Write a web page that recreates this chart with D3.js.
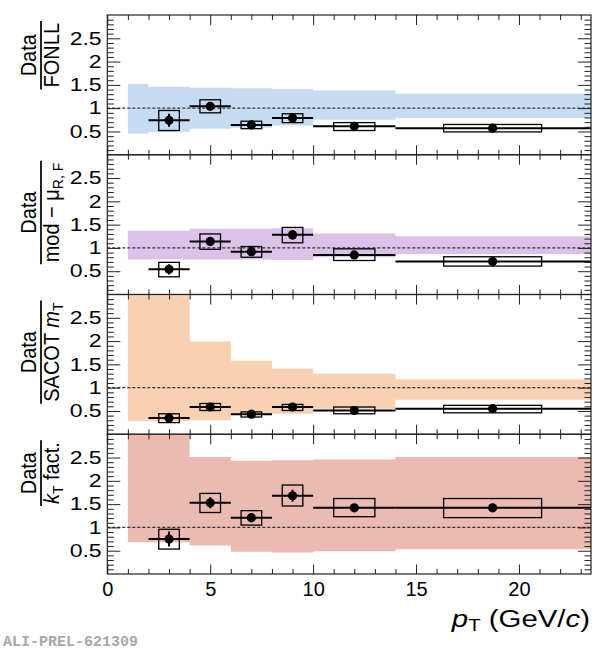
<!DOCTYPE html>
<html>
<head>
<meta charset="utf-8">
<script src="https://cdn.jsdelivr.net/npm/d3@7"></script>
<style>
  body { margin: 0; background: #fff; }
  svg { display: block; }
</style>
</head>
<body>
<div id="chart"></div>
<script>
(function () {
  'use strict';

  // Data points (common to all panels): mean pT, bin edges, syst box half width
  const pointPt = [3, 5, 7, 9, 12, 18.72];
  const binLo = [2, 4, 6, 8, 10, 14];
  const binHi = [4, 6, 8, 10, 14, 24];
  const boxHalf = [0.5, 0.5, 0.5, 0.5, 1.0, 2.38];

  // Model uncertainty band bin edges
  const modelEdges = [1, 2, 4, 6, 8, 10, 14, 24];

  // Data / FONLL
  const fonllVal = [0.74, 1.04, 0.64, 0.79, 0.61, 0.57];
  const fonllStat = [0.14, 0.08, 0.05, 0.06, 0.03, 0.03];
  const fonllSysLo = [0.52, 0.90, 0.56, 0.69, 0.52, 0.49];
  const fonllSysHi = [0.95, 1.18, 0.72, 0.88, 0.69, 0.65];
  const fonllBandLo = [0.45, 0.49, 0.56, 0.58, 0.63, 0.75, 0.79];
  const fonllBandHi = [1.52, 1.46, 1.44, 1.43, 1.41, 1.38, 1.31];

  // Data / mod - muR,F
  const muVal = [0.54, 1.14, 0.92, 1.28, 0.85, 0.71];
  const muStat = [0.11, 0.09, 0.07, 0.10, 0.04, 0.04];
  const muSysLo = [0.38, 0.97, 0.80, 1.11, 0.73, 0.61];
  const muSysHi = [0.69, 1.30, 1.03, 1.44, 0.98, 0.81];
  const muBandLo = [0.75, 0.75, 0.75, 0.75, 0.74, 0.80, 0.87];
  const muBandHi = [1.37, 1.37, 1.41, 1.41, 1.42, 1.31, 1.25];

  // Data / SACOT mT
  const sacotVal = [0.35, 0.585, 0.43, 0.585, 0.51, 0.55];
  const sacotStat = [0.07, 0.05, 0.035, 0.045, 0.025, 0.03];
  const sacotSysLo = [0.25, 0.51, 0.37, 0.51, 0.44, 0.46];
  const sacotSysHi = [0.44, 0.66, 0.48, 0.64, 0.585, 0.62];
  const sacotBandLo = [0.285, 0.285, 0.30, 0.43, 0.44, 0.55, 0.74];
  const sacotBandHi = [3.5, 3.5, 1.99, 1.58, 1.41, 1.30, 1.18];

  // Data / kT fact.
  const ktVal = [0.75, 1.53, 1.21, 1.68, 1.42, 1.42];
  const ktStat = [0.16, 0.12, 0.10, 0.13, 0.07, 0.07];
  const ktSysLo = [0.535, 1.32, 1.05, 1.46, 1.23, 1.21];
  const ktSysHi = [0.96, 1.73, 1.36, 1.91, 1.62, 1.62];
  const ktBandLo = [0.68, 0.68, 0.61, 0.48, 0.46, 0.49, 0.53];
  const ktBandHi = [3.5, 3.5, 2.51, 2.43, 2.44, 2.46, 2.51];

  // Axis ticks
  const xMajor = [0, 5, 10, 15, 20];
  const xMinor = [1, 2, 3, 4, 6, 7, 8, 9, 11, 12, 13, 14, 16, 17, 18, 19, 21, 22, 23];
  const xTickLabels = ['0', '5', '10', '15', '20'];
  const yMajor = [0.5, 1, 1.5, 2, 2.5];
  const yMinor = [0.1, 0.2, 0.3, 0.4, 0.6, 0.7, 0.8, 0.9, 1.1, 1.2, 1.3, 1.4, 1.6, 1.7, 1.8, 1.9,
                  2.1, 2.2, 2.3, 2.4, 2.6, 2.7, 2.8, 2.9];
  const yTickLabels = ['0.5', '1', '1.5', '2', '2.5'];

  const FONT = '"Liberation Sans", Arial, Helvetica, sans-serif';
  const W = 606, H = 650;
  const left = 107.3, right = 591, top0 = 15, panelH = 139.75;

  const panels = [
    { denom: [{ t: 'FONLL' }], val: fonllVal, stat: fonllStat, lo: fonllSysLo, hi: fonllSysHi,
      bLo: fonllBandLo, bHi: fonllBandHi, color: '#c5dcf2' },
    { denom: [{ t: 'mod \u2212 \u03bc' }, { t: 'R, F', sub: true }], val: muVal, stat: muStat, lo: muSysLo, hi: muSysHi,
      bLo: muBandLo, bHi: muBandHi, color: '#dcc2e8' },
    { denom: [{ t: 'SACOT ' }, { t: 'm', it: true }, { t: 'T', sub: true }], val: sacotVal, stat: sacotStat, lo: sacotSysLo, hi: sacotSysHi,
      bLo: sacotBandLo, bHi: sacotBandHi, color: '#f8d0b2' },
    { denom: [{ t: 'k', it: true }, { t: 'T', sub: true }, { t: ' fact.' }], val: ktVal, stat: ktStat, lo: ktSysLo, hi: ktSysHi,
      bLo: ktBandLo, bHi: ktBandHi, color: '#ebbab1' }
  ];

  const svg = d3.select('#chart').append('svg')
    .attr('width', W).attr('height', H)
    .attr('viewBox', [0, 0, W, H]);
  svg.append('rect').attr('width', W).attr('height', H).attr('fill', '#fff');

  const x = d3.scaleLinear().domain([0, 23.5]).range([left, right]);

  function styleAxis(g) {
    g.select('.domain').remove();
    g.selectAll('.tick line').attr('stroke', '#222').attr('stroke-width', 1);
    g.selectAll('text').attr('fill', '#000').attr('font-family', FONT);
  }

  panels.forEach((p, i) => {
    const top = top0 + i * panelH;
    const bottom = top + panelH;
    const y = d3.scaleLinear().domain([0, 3]).range([bottom, top]);
    const g = svg.append('g');

    const clipId = 'clip' + i;
    svg.append('clipPath').attr('id', clipId)
      .append('rect').attr('x', left).attr('y', top).attr('width', right - left).attr('height', panelH);
    const plot = g.append('g').attr('clip-path', `url(#${clipId})`);

    // model band (step shape)
    const bandData = modelEdges.map((e, j) => ({
      x: e,
      lo: p.bLo[Math.min(j, p.bLo.length - 1)],
      hi: p.bHi[Math.min(j, p.bHi.length - 1)]
    }));
    plot.append('path')
      .datum(bandData)
      .attr('fill', p.color)
      .attr('d', d3.area().curve(d3.curveStepAfter)
        .x(d => x(d.x)).y0(d => y(d.lo)).y1(d => y(d.hi)));

    // unity line
    plot.append('line')
      .attr('x1', x(0)).attr('x2', x(23.5))
      .attr('y1', y(1)).attr('y2', y(1))
      .attr('stroke', '#333').attr('stroke-width', 1.1)
      .attr('stroke-dasharray', '3,2');

    const idx = d3.range(pointPt.length);

    // systematic boxes
    plot.append('g').selectAll('rect')
      .data(idx).join('rect')
      .attr('x', j => x(pointPt[j] - boxHalf[j]))
      .attr('width', j => x(pointPt[j] + boxHalf[j]) - x(pointPt[j] - boxHalf[j]))
      .attr('y', j => y(p.hi[j]))
      .attr('height', j => y(p.lo[j]) - y(p.hi[j]))
      .attr('fill', 'none').attr('stroke', '#000').attr('stroke-width', 1.3);

    // horizontal bin bars
    plot.append('g').selectAll('line')
      .data(idx).join('line')
      .attr('x1', j => x(binLo[j])).attr('x2', j => x(binHi[j]))
      .attr('y1', j => y(p.val[j])).attr('y2', j => y(p.val[j]))
      .attr('stroke', '#000').attr('stroke-width', 2);

    // statistical bars
    plot.append('g').selectAll('line')
      .data(idx).join('line')
      .attr('x1', j => x(pointPt[j])).attr('x2', j => x(pointPt[j]))
      .attr('y1', j => y(p.val[j] - p.stat[j])).attr('y2', j => y(p.val[j] + p.stat[j]))
      .attr('stroke', '#000').attr('stroke-width', 2);

    // markers
    plot.append('g').selectAll('circle')
      .data(idx).join('circle')
      .attr('cx', j => x(pointPt[j])).attr('cy', j => y(p.val[j]))
      .attr('r', 4.6).attr('fill', '#000');

    // axes: ticks on all four sides
    const isLast = i === panels.length - 1;
    g.append('g').attr('transform', `translate(0,${bottom})`)
      .call(d3.axisBottom(x).tickValues(xMajor).tickSize(-9.5).tickPadding(7.5)
        .tickFormat((d, k) => isLast ? xTickLabels[k] : ''))
      .call(styleAxis)
      .call(a => a.selectAll('text').attr('font-size', 20));
    g.append('g').attr('transform', `translate(0,${bottom})`)
      .call(d3.axisBottom(x).tickValues(xMinor).tickSize(-5).tickFormat(''))
      .call(styleAxis);
    g.append('g').attr('transform', `translate(0,${top})`)
      .call(d3.axisTop(x).tickValues(xMajor).tickSize(-10).tickFormat(''))
      .call(styleAxis);
    g.append('g').attr('transform', `translate(0,${top})`)
      .call(d3.axisTop(x).tickValues(xMinor).tickSize(-5).tickFormat(''))
      .call(styleAxis);

    g.append('g').attr('transform', `translate(${left},0)`)
      .call(d3.axisLeft(y).tickValues(yMajor).tickSize(-13).tickPadding(4.4)
        .tickFormat((d, k) => yTickLabels[k]))
      .call(styleAxis)
      .call(a => a.selectAll('text').attr('font-size', 18).attr('transform', 'scale(1.28,1)'));
    g.append('g').attr('transform', `translate(${left},0)`)
      .call(d3.axisLeft(y).tickValues(yMinor).tickSize(-6.5).tickFormat(''))
      .call(styleAxis);
    g.append('g').attr('transform', `translate(${right},0)`)
      .call(d3.axisRight(y).tickValues(yMajor).tickSize(-13).tickFormat(''))
      .call(styleAxis);
    g.append('g').attr('transform', `translate(${right},0)`)
      .call(d3.axisRight(y).tickValues(yMinor).tickSize(-6.5).tickFormat(''))
      .call(styleAxis);

    // frame
    g.append('rect')
      .attr('x', left).attr('y', top).attr('width', right - left).attr('height', panelH)
      .attr('fill', 'none').attr('stroke', '#222').attr('stroke-width', 1.2);

    // y title: Data over model, rotated, anchored near panel top
    const tg = svg.append('g')
      .attr('transform', `translate(41,${top + 6}) rotate(-90) scale(1,1.08)`)
      .attr('font-family', FONT).attr('font-size', 20).attr('fill', '#000');
    const pad = 2;
    const den = tg.append('text').attr('x', -pad).attr('y', 16.5).attr('text-anchor', 'end');
    let shifted = false;
    p.denom.forEach(part => {
      const ts = den.append('tspan').text(part.t);
      if (part.it) ts.attr('font-style', 'italic');
      if (part.sub) {
        ts.attr('font-size', 14).attr('dy', 4);
        shifted = true;
      } else if (shifted) {
        ts.attr('dy', -4);
        shifted = false;
      }
    });
    const len = den.node().getComputedTextLength();
    const L = len + 2 * pad;
    tg.append('line')
      .attr('x1', -L).attr('x2', 0).attr('y1', 0).attr('y2', 0)
      .attr('stroke', '#000').attr('stroke-width', 1.6);
    tg.append('text').attr('x', -L / 2).attr('y', -5).attr('text-anchor', 'middle').text('Data');
  });

  // x axis title
  const xt = svg.append('text')
    .attr('transform', 'translate(590,627) scale(1.2,1)')
    .attr('text-anchor', 'end')
    .attr('font-family', FONT).attr('font-size', 24.5).attr('fill', '#000');
  xt.append('tspan').attr('font-style', 'italic').text('p');
  xt.append('tspan').attr('font-size', 17).attr('dy', 4).text('T');
  xt.append('tspan').attr('dy', -4).text(' (GeV/');
  xt.append('tspan').attr('font-style', 'italic').text('c');
  xt.append('tspan').text(')');

  // preliminary label
  svg.append('text')
    .attr('x', 3).attr('y', 646)
    .attr('font-family', '"Liberation Mono", "DejaVu Sans Mono", monospace')
    .attr('font-weight', 'bold').attr('font-size', 15).attr('fill', '#a8a8a8')
    .text('ALI-PREL-621309');
})();
</script>
</body>
</html>
